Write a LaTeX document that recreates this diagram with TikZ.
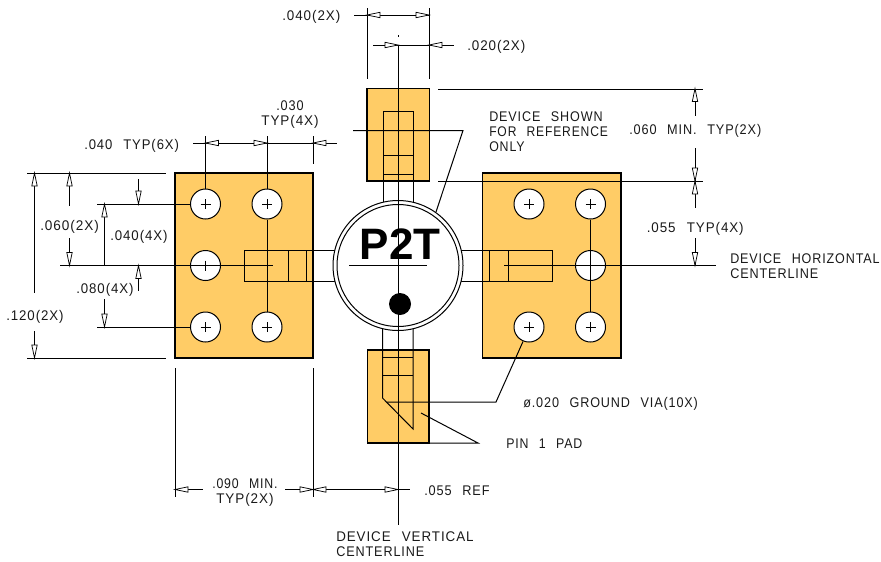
\documentclass[tikz,border=0pt]{standalone}
\usepackage{graphicx}
\usepackage{fontspec}
\setmainfont{Liberation Sans}
\newfontfamily\cadfont[LetterSpace=7,WordSpace=2.4]{Liberation Sans}
\definecolor{padc}{HTML}{FFCC66}
\tikzset{
  ln/.style={draw=black,line width=0.75pt},
  pad/.style={fill=padc,draw=black,line width=0.8pt},
  hole/.style={circle,draw=black,fill=white,line width=0.75pt,minimum size=22.5pt,inner sep=0pt},
  lbl/.style={anchor=base west,inner sep=0pt,font=\cadfont\fontsize{10.5}{11.6}\selectfont,text=black!90},
  clbl/.style={anchor=base,inner sep=0pt,font=\cadfont\fontsize{10.5}{11.6}\selectfont,text=black!90},
  tri/.style={draw=black,fill=white,line width=0.55pt,line join=miter}
}
\newcommand{\fw}[2]{\resizebox{#1pt}{\height}{#2}}
\newcommand{\harr}[3]{\draw[tri] (#1,#2) -- ++(#3,-2.7) -- ++(0,5.4) -- cycle;}
\newcommand{\varr}[3]{\draw[tri] (#1,#2) -- ++(-2.7,#3) -- ++(5.4,0) -- cycle;}
\begin{document}
\begin{tikzpicture}[x=0.75pt,y=-0.75pt]
\useasboundingbox (0,0) rectangle (881,561);
% pads
\draw[pad] (175,173) rectangle (313,358);
\draw[pad] (482.5,173) rectangle (621,358);
\draw[pad] (367,88.5) rectangle (429.5,181);
\draw[pad] (367.5,350) rectangle (429,443);
% via holes
\foreach \n/\x/\y in {a/205.5/204,b/267/204,c/205.5/265.5,d/205.5/327,e/267/327,f/529/204,g/590.5/204,h/590.5/265.5,i/529/327,j/590.5/327}{
  \node[hole] (h\n) at (\x,\y) {};
  \draw[ln] (\x-5,\y) -- (\x+5,\y) (\x,\y-5) -- (\x,\y+5);
}
% device leads
\draw[ln] (383,111) rectangle (413,180);
\draw[ln] (383,155.5) -- (413,155.5) (383,174) -- (413,174);
\draw[ln] (383,180) -- (383,205) (413,180) -- (413,205);
\draw[ln] (382.5,326) -- (382.5,398) -- (413,429) -- (413,326);
\draw[ln] (382.5,357) -- (413,357) (382.5,375.7) -- (413,375.7);
\draw[ln] (336,250) -- (244,250) -- (244,281) -- (336,281) (288,250) -- (288,281) (306,250) -- (306,281);
\draw[ln] (460,250) -- (552,250) -- (552,281) -- (460,281) (489,250) -- (489,281) (508,250) -- (508,281);
% device body
\node[circle,draw=black,fill=white,line width=0.75pt,minimum size=97.5pt,inner sep=0pt] (bodyo) at (398,265.5) {};
\node[circle,draw=black,fill=white,line width=0.75pt,minimum size=91.5pt,inner sep=0pt] (bodyi) at (398,265.5) {};
\node[circle,fill=black,minimum size=16.5pt,inner sep=0pt] (dot) at (400,304) {};
\node[inner sep=0pt,font=\fontsize{33}{33}\selectfont\bfseries] (ptt) at (400,244.5) {P2T};
% centre lines
\draw[ln] (398,45) -- (398,525);
\draw[ln] (398,35) -- (398,36.5);
\draw[ln] (349,265.5) -- (427,265.5);
\draw[ln] (60,265.5) -- (273,265.5);
\draw[ln] (504,265.5) -- (716,265.5);
% hole connecting lines
\draw[ln] (ha.north) -- (205.5,136);
\draw[ln] (hb.north) -- (267,136);
\draw[ln] (hb.south) -- (he.north);
\draw[ln] (hg.south) -- (hj.north);
\draw[ln] (313,136) -- (313,164);
\draw[ln] (ha.west) -- (97,204);
\draw[ln] (hd.west) -- (97,327);
\draw[ln] (27,173) -- (166,173) (27,358) -- (166,358);
\draw[ln] (175,368) -- (175,497) (313,368) -- (313,497);
% top dims
\draw[ln] (367,8) -- (367,79) (429,8) -- (429,79);
\draw[ln] (354,15) -- (429,15);
\harr{367}{15}{13}\harr{429}{15}{-13}
\draw[ln] (373,45) -- (454,45);
\harr{398}{45}{-13}\harr{429}{45}{13}
% right dims
\draw[ln] (438,89) -- (703,89) (438,181) -- (703,181);
\draw[ln] (695,88.5) -- (695,116) (695,148) -- (695,208) (695,238) -- (695,265.5);
\varr{695}{88.5}{13}\varr{695}{181}{-13}\varr{695}{181}{13}\varr{695}{265.5}{-13}
% top of left pad dim
\draw[ln] (193,143) -- (337,143);
\harr{205.5}{143}{13}\harr{267}{143}{-13}\harr{313}{143}{13}
% left dims
\draw[ln] (34.5,173) -- (34.5,293) (34.5,331) -- (34.5,358);
\varr{34.5}{173}{13}\varr{34.5}{358}{-13}
\draw[ln] (69.5,173) -- (69.5,206) (69.5,238) -- (69.5,265.5);
\varr{69.5}{173}{13}\varr{69.5}{265.5}{-13}
\draw[ln] (138.5,179) -- (138.5,204) (138.5,265.5) -- (138.5,291);
\varr{138.5}{204}{-13}\varr{138.5}{265.5}{13}
\draw[ln] (104.5,204) -- (104.5,265.5) (104.5,299) -- (104.5,327);
\varr{104.5}{204}{13}\varr{104.5}{327}{-13}
% bottom dims
\draw[ln] (175,489.5) -- (203,489.5) (285,489.5) -- (410,489.5);
\harr{175}{489.5}{13}\harr{313}{489.5}{-13}\harr{313}{489.5}{13}\harr{398}{489.5}{-13}
% leaders
\draw[ln] (353,130.5) -- (463,130.5) -- (436,212);
\draw[ln] (429,443) -- (478,443) -- (421,413);
\draw[ln] (387,402) -- (496,402) -- (523,341.5);
% labels
\node[lbl] (t1) at (282,20) {\fw{43.5}{.040(2X)}};
\node[lbl] (t2) at (467,50) {\fw{43.5}{.020(2X)}};
\node[lbl] (t3) at (489,121) {\fw{85}{DEVICE SHOWN}};
\node[lbl] (t4) at (489,136) {\fw{89}{FOR REFERENCE}};
\node[lbl] (t5) at (489,151) {\fw{26.5}{ONLY}};
\node[lbl] (t6) at (629,134) {\fw{99}{.060 MIN. TYP(2X)}};
\node[lbl] (t7) at (646.5,232) {\fw{72.7}{.055 TYP(4X)}};
\node[lbl] (t8) at (730,263) {\fw{112}{DEVICE HORIZONTAL}};
\node[lbl] (t9) at (730,278) {\fw{66}{CENTERLINE}};
\node[clbl] (t10) at (290,110) {\fw{20.5}{.030}};
\node[clbl] (t11) at (290,125) {\fw{43}{TYP(4X)}};
\node[lbl] (t12) at (84,149) {\fw{71}{.040 TYP(6X)}};
\node[lbl] (t13) at (40,230) {\fw{44}{.060(2X)}};
\node[lbl] (t14) at (110,240) {\fw{43}{.040(4X)}};
\node[lbl] (t15) at (76,293) {\fw{43}{.080(4X)}};
\node[lbl] (t16) at (6,320) {\fw{43}{.120(2X)}};
\node[lbl] (t17) at (212,488) {\fw{49}{.090 MIN.}};
\node[lbl] (t18) at (216,503) {\fw{43}{TYP(2X)}};
\node[lbl] (t19) at (424,495) {\fw{49}{.055 REF}};
\node[lbl] (t20) at (506,448) {\fw{57}{PIN 1 PAD}};
\node[lbl] (t21) at (523,407) {\fw{131}{ø.020 GROUND VIA(10X)}};
\node[lbl] (t22) at (336,541) {\fw{103}{DEVICE VERTICAL}};
\node[lbl] (t23) at (336,556) {\fw{66}{CENTERLINE}};
\end{tikzpicture}
\end{document}
